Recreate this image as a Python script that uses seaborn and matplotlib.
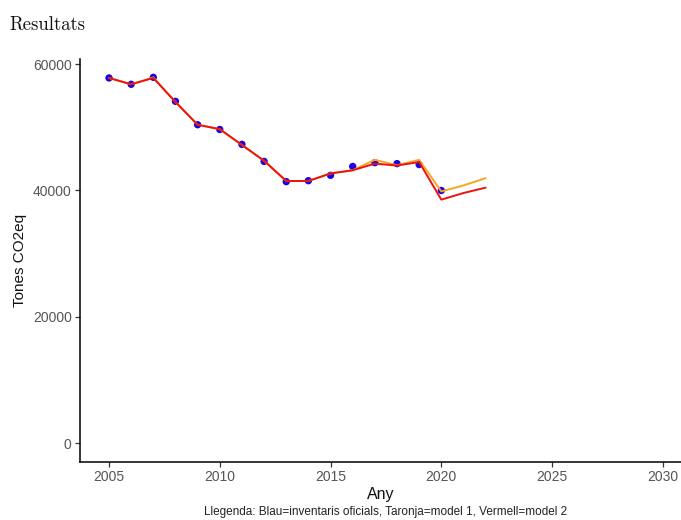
import matplotlib
matplotlib.use('Agg')
import matplotlib.pyplot as plt
import seaborn as sns
import pandas as pd

# valors llegits del gràfic
anys_inv = [2005, 2006, 2007, 2008, 2009, 2010, 2011, 2012, 2013, 2014,
            2015, 2016, 2017, 2018, 2019, 2020]
inventari = [57800, 56800, 57900, 54100, 50400, 49650, 47300, 44600, 41400, 41550,
             42400, 43800, 44400, 44250, 44100, 40000]

anys_model = [2005, 2006, 2007, 2008, 2009, 2010, 2011, 2012, 2013, 2014,
              2015, 2016, 2017, 2018, 2019, 2020, 2021, 2022]
model1 = [57800, 56800, 57900, 54000, 50400, 49700, 47200, 44700, 41500, 41500,
          42700, 43200, 44850, 44000, 44850, 39850, 40800, 41950]
model2 = [57800, 56800, 57800, 54000, 50400, 49700, 47200, 44700, 41500, 41500,
          42700, 43200, 44250, 43950, 44500, 38550, 39600, 40450]

df_inv = pd.DataFrame({'Any': anys_inv, 'Valor': inventari})
df_m1 = pd.DataFrame({'Any': anys_model, 'Valor': model1})
df_m2 = pd.DataFrame({'Any': anys_model, 'Valor': model2})

sns.set_theme(style='ticks')
plt.rcParams['font.family'] = ['Liberation Sans', 'DejaVu Sans']

fig = plt.figure(figsize=(6.81, 5.2), dpi=100)
# eixos: x de 80 a 681 px, y de 59 a 462 px
ax = fig.add_axes([80 / 681, 1 - 462 / 520, 601 / 681, 403 / 520])

sns.scatterplot(data=df_inv, x='Any', y='Valor', color='#1a00e6', s=28,
                edgecolor='none', ax=ax, zorder=2)
sns.lineplot(data=df_m1, x='Any', y='Valor', color='#f5a623', linewidth=1.4, ax=ax, zorder=3)
sns.lineplot(data=df_m2, x='Any', y='Valor', color='#ee1111', linewidth=1.4, ax=ax, zorder=4)

ax.set_xlim(2003.69, 2030.82)
ax.set_ylim(-2950, 60800)
ax.set_xticks([2005, 2010, 2015, 2020, 2025, 2030])
ax.set_yticks([0, 20000, 40000, 60000])
ax.tick_params(axis='both', colors='#333333', labelcolor='#555555', labelsize=10,
               length=3.5, width=0.9, pad=2.5)
for s in ['left', 'bottom']:
    ax.spines[s].set_color('black')
    ax.spines[s].set_linewidth(1.1)
sns.despine(ax=ax)

ax.set_xlabel('Any', fontsize=11.5, labelpad=2, color='#111111')
ax.set_ylabel('Tones CO2eq', fontsize=11, labelpad=4, color='#111111')

fig.text(0.014, 0.952, 'Resultats', family=['cmr10', 'DejaVu Serif'], fontsize=13.5,
         va='center', ha='left', color='#111111')
fig.text(0.566, 0.003, 'Llegenda: Blau=inventaris oficials, Taronja=model 1, Vermell=model 2',
         fontsize=8.5, ha='center', va='bottom', color='#222222')

fig.savefig('out.png', dpi=100)
